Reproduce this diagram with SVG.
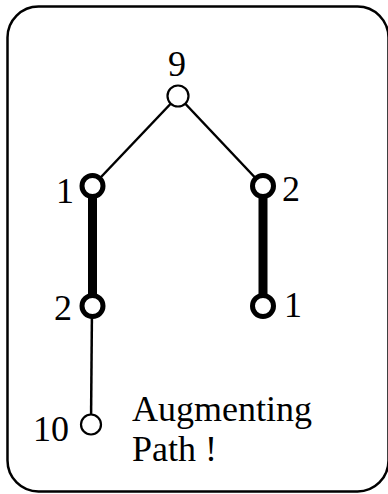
<svg xmlns="http://www.w3.org/2000/svg" width="388" height="494" viewBox="0 0 388 494">
<style>
.t{font-family:"Liberation Serif","Times New Roman",serif;font-size:36px;fill:#000}
.thin{stroke:#000;stroke-width:2.5;fill:none}
.thick{stroke:#000;stroke-width:9;fill:none}
.n{fill:#fff;stroke:#000;stroke-width:2.2}
.m{fill:#fff;stroke:#000;stroke-width:5}
</style>
<rect x="7.5" y="6.5" width="381" height="485" rx="31" ry="31" fill="#fff" stroke="#000" stroke-width="2.5"/>
<g id="connectors">
<line class="thin" x1="178" y1="96" x2="92.5" y2="186"/>
<line class="thin" x1="178" y1="96" x2="263" y2="186"/>
<line class="thick" x1="92.5" y1="186" x2="92.5" y2="306"/>
<line class="thick" x1="263" y1="186" x2="263" y2="306"/>
<line class="thin" x1="92" y1="306" x2="91" y2="424"/>
</g>
<g id="n9"><circle class="n" cx="178" cy="96" r="10.5"/><text class="t" x="168" y="76">9</text></g>
<g id="nL1"><circle class="m" cx="92.5" cy="186" r="10.5"/><text class="t" x="56" y="203">1</text></g>
<g id="nR2"><circle class="m" cx="263" cy="186" r="10.5"/><text class="t" x="282" y="201">2</text></g>
<g id="nL2"><circle class="m" cx="92.5" cy="306" r="10.5"/><text class="t" x="54" y="320">2</text></g>
<g id="nR1"><circle class="m" cx="263" cy="306" r="10.5"/><text class="t" x="284" y="317">1</text></g>
<g id="n10"><circle class="n" cx="91" cy="424.5" r="10"/><text class="t" x="33" y="441">10</text></g>
<g id="label"><text class="t" x="132" y="421">Augmenting</text><text class="t" x="132" y="461">Path !</text></g>
</svg>
